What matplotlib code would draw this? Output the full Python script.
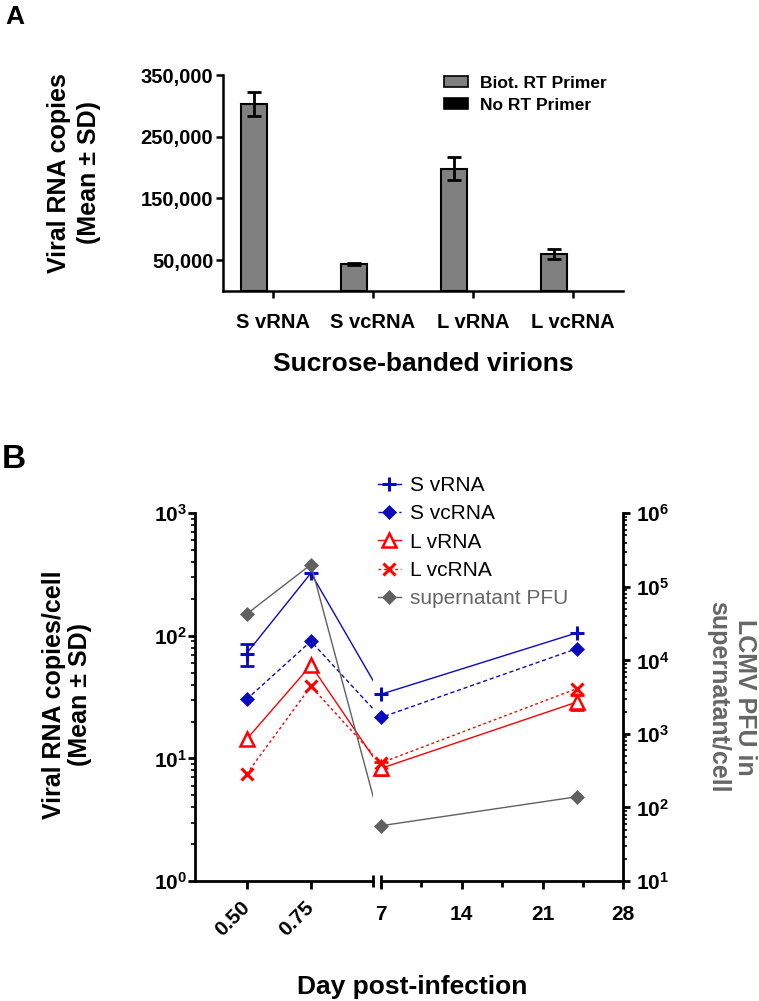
import numpy as np
import matplotlib
matplotlib.use('Agg')
import matplotlib.pyplot as plt
from matplotlib.lines import Line2D
from matplotlib.patches import Patch
from matplotlib.path import Path
from matplotlib.ticker import FixedLocator, FixedFormatter, LogLocator, NullFormatter

plt.rcParams['font.family'] = ['Liberation Sans', 'DejaVu Sans']
plt.rcParams['mathtext.fontset'] = 'custom'
plt.rcParams['mathtext.rm'] = 'Liberation Sans'
plt.rcParams['mathtext.bf'] = 'Liberation Sans:bold'
plt.rcParams['mathtext.it'] = 'Liberation Sans:italic'

nan = np.nan

# ---------------- Panel A data ----------------
categories = ['S vRNA', 'S vcRNA', 'L vRNA', 'L vcRNA']
biot_mean = [303000, 43500, 198000, 60000]
biot_sd = [19000, 1500, 18500, 8000]
no_rt_mean = [0, 0, 0, 0]
a_yticks = [50000, 150000, 250000, 350000]
a_yticklabels = ['50,000', '150,000', '250,000', '350,000']

# ---------------- Panel B data ----------------
days = [0.5, 0.75, 7, 24]
s_vrna = [71.8, 325, 33.4, 106]
s_vrna_sd = [14.6, nan, nan, nan]
s_vcrna = [30.3, 90.4, 21.6, 78.8]
l_vrna = [14.3, 57.6, 8.3, 28.9]
l_vrna_sd = [nan, nan, 1.0, 4.0]
l_vcrna = [7.45, 38.8, 9.2, 37.2]
pfu = [42500, 201000, 56.4, 140]
b_xticks = [0.5, 0.75, 7, 14, 21, 28]
b_xticklabels = ['0.50', '0.75', '7', '14', '21', '28']
b_xminor = [10.5, 17.5, 24.5]
left_yticks = [1, 10, 100, 1000]
left_yticklabels = [r'$\mathbf{10^{0}}$', r'$\mathbf{10^{1}}$', r'$\mathbf{10^{2}}$', r'$\mathbf{10^{3}}$']
right_yticks = [1e1, 1e2, 1e3, 1e4, 1e5, 1e6]
right_yticklabels = [r'$\mathbf{10^{%d}}$' % k for k in range(1, 7)]

# broken-axis layout (days -> position)
X_BREAK = [0.3, 0.99, 7.0, 28.0]
U_BREAK = [0.0, 177.7, 186.0, 428.3]

BLUE = '#0A0ABE'
RED = '#FF0000'
GRAY = '#606060'
LABEL_GRAY = '#666666'

W, H = 759, 1001
fig = plt.figure(figsize=(W / 100, H / 100), dpi=100)

# ================= Panel A =================
axA = fig.add_axes([223 / W, 1 - 291 / H, (622.7 - 223) / W, (291 - 75) / H])
x = np.arange(len(categories))
bw = 0.26
off = 0.19
b1 = axA.bar(x - off, biot_mean, width=bw, color='#808080', edgecolor='black',
             linewidth=1.5, zorder=2)
axA.errorbar(x - off, biot_mean, yerr=biot_sd, fmt='none', ecolor='black',
             elinewidth=2, capsize=5, capthick=2, zorder=3)
b2 = axA.bar(x + off, no_rt_mean, width=bw, color='black', edgecolor='black',
             linewidth=0, zorder=2)
axA.set_xlim(-0.5, len(categories) - 0.5)
axA.set_ylim(0, 350000)
axA.set_xticks(x)
axA.set_xticklabels(categories, fontsize=14.5, fontweight='bold')
axA.set_yticks(a_yticks)
axA.set_yticklabels(a_yticklabels, fontsize=14.5, fontweight='bold')
for s in ['top', 'right']:
    axA.spines[s].set_visible(False)
for s in ['left', 'bottom']:
    axA.spines[s].set_linewidth(1.8)
axA.tick_params(axis='x', length=5, width=1.8, pad=11)
axA.tick_params(axis='y', length=5, width=1.8, pad=2)

legA = fig.legend([Patch(facecolor='#808080', edgecolor='black', linewidth=1.2),
                   Patch(facecolor='black', edgecolor='black', linewidth=1.2)],
                  ['Biot. RT Primer', 'No RT Primer'],
                  loc='upper left', bbox_to_anchor=(444 / W, 1 - 76 / H),
                  frameon=False, prop={'size': 12.5, 'weight': 'bold'},
                  handlelength=1.4, handleheight=0.6, handletextpad=0.7,
                  labelspacing=0.4, borderpad=0, borderaxespad=0)

fig.text(15 / W, 1 - 17 / H, 'A', fontsize=19, fontweight='bold', ha='center', va='center')
fig.text(74 / W, 1 - 173 / H, 'Viral RNA copies\n(Mean ± SD)', rotation=90,
         fontsize=18, fontweight='bold', ha='center', va='center', linespacing=1.3)
fig.text(423 / W, 1 - 364 / H, 'Sucrose-banded virions', fontsize=19,
         fontweight='bold', ha='center', va='center')

# ================= Panel B =================
axB = fig.add_axes([195 / W, 1 - 881 / H, (623.3 - 195) / W, (881 - 513.3) / H])


def fwd(d):
    return np.interp(d, X_BREAK, U_BREAK)


def inv(u):
    return np.interp(u, U_BREAK, X_BREAK)


axB.set_xscale('function', functions=(fwd, inv))
axB.set_yscale('log')
axB.set_xlim(X_BREAK[0], X_BREAK[-1])
axB.set_ylim(1, 1000)

axR = axB.twinx()
axR.set_yscale('log')
axR.set_ylim(10, 1e6)


def seg_rect(x0, x1):
    return Path([(x0, -0.05), (x1, -0.05), (x1, 1.05), (x0, 1.05), (x0, -0.05)],
                closed=True)


clip = Path.make_compound_path(seg_rect(X_BREAK[0], X_BREAK[1]),
                               seg_rect(X_BREAK[2], X_BREAK[3]))

series = [
    (axB, s_vrna, 'S vRNA', BLUE, '-', dict(marker='+', ms=10, mew=2.2, mfc=BLUE)),
    (axB, s_vcrna, 'S vcRNA', BLUE, (0, (3, 2)), dict(marker='D', ms=7.5, mew=0.5, mfc=BLUE)),
    (axB, l_vrna, 'L vRNA', RED, '-', dict(marker='^', ms=10, mew=1.8, mfc='white')),
    (axB, l_vcrna, 'L vcRNA', RED, (0, (2, 2)), dict(marker='x', ms=9, mew=2.2, mfc=RED)),
    (axR, pfu, 'supernatant PFU', GRAY, '-', dict(marker='D', ms=7.5, mew=0.5, mfc=GRAY)),
]

handles, labels = [], []
for ax, vals, lab, col, ls, mk in series:
    ln, = ax.plot(days, vals, color=col, ls=ls, lw=1.0, zorder=2)
    ln.set_clip_path(clip, ax.get_xaxis_transform())
    ax.plot(days, vals, ls='none', color=col, mec=col, zorder=4, clip_on=False, **mk)
    handles.append(Line2D([], [], color=col, ls=ls, lw=1.0, mec=col, **mk))
    labels.append(lab)

for vals, sd, col in [(s_vrna, s_vrna_sd, BLUE), (l_vrna, l_vrna_sd, RED)]:
    m = ~np.isnan(np.array(sd, dtype=float))
    axB.errorbar(np.array(days)[m], np.array(vals)[m], yerr=np.array(sd)[m],
                 fmt='none', ecolor=col, elinewidth=2, capsize=5, capthick=2, zorder=3)

# x axis (broken)
axB.xaxis.set_major_locator(FixedLocator(b_xticks))
axB.xaxis.set_major_formatter(FixedFormatter(b_xticklabels))
axB.xaxis.set_minor_locator(FixedLocator(b_xminor))
axB.xaxis.set_minor_formatter(NullFormatter())
axB.tick_params(axis='x', which='major', length=6, width=2, pad=11, labelsize=15)
axB.tick_params(axis='x', which='minor', length=4, width=2)
for t in axB.get_xticklabels():
    t.set_fontweight('bold')
for t in axB.get_xticklabels()[:2]:
    t.set_rotation(45)
    t.set_ha('right')
    t.set_va('center')
    t.set_rotation_mode('anchor')

axB.spines['bottom'].set_visible(False)
for s in ['top']:
    axB.spines[s].set_visible(False)
    axR.spines[s].set_visible(False)
axR.spines['bottom'].set_visible(False)
axB.spines['left'].set_linewidth(2)
axR.spines['right'].set_linewidth(2)
axR.spines['left'].set_visible(False)
xt = axB.get_xaxis_transform()
axB.plot(X_BREAK[:2], [0, 0], color='black', lw=2, transform=xt, clip_on=False, zorder=5)
axB.plot(X_BREAK[2:], [0, 0], color='black', lw=2, transform=xt, clip_on=False, zorder=5)
axB.plot(X_BREAK[1:3], [0, 0], ls='none', marker='|', ms=8, mew=2, color='black',
         transform=xt, clip_on=False, zorder=5)

# y axes
axB.yaxis.set_major_locator(FixedLocator(left_yticks))
axB.yaxis.set_major_formatter(FixedFormatter(left_yticklabels))
axB.yaxis.set_minor_locator(LogLocator(base=10, subs=np.arange(2, 10)))
axB.yaxis.set_minor_formatter(NullFormatter())
axB.tick_params(axis='y', which='major', length=5, width=2, pad=1, labelsize=15)
axB.tick_params(axis='y', which='minor', length=3, width=1.2)

axR.yaxis.set_major_locator(FixedLocator(right_yticks))
axR.yaxis.set_major_formatter(FixedFormatter(right_yticklabels))
axR.yaxis.set_minor_locator(LogLocator(base=10, subs=np.arange(2, 10)))
axR.yaxis.set_minor_formatter(NullFormatter())
axR.tick_params(axis='y', which='major', length=5, width=2, pad=4, labelsize=15)
axR.tick_params(axis='y', which='minor', length=3, width=1.2)

legB = fig.legend(handles, labels, loc='upper left', bbox_to_anchor=(378 / W, 1 - 476 / H),
                  frameon=False, fontsize=15, handlelength=1.1, handletextpad=0.45,
                  labelspacing=0.45, borderpad=0, borderaxespad=0)
legB.get_texts()[-1].set_color(LABEL_GRAY)

fig.text(14 / W, 1 - 460 / H, 'B', fontsize=24, fontweight='bold', ha='center', va='center')
fig.text(67 / W, 1 - 695 / H, 'Viral RNA copies/cell\n(Mean ± SD)', rotation=90,
         fontsize=18, fontweight='bold', ha='center', va='center', linespacing=1.15)
fig.text(732 / W, 1 - 697 / H, 'LCMV PFU in\nsupernatant/cell', rotation=270,
         fontsize=18, fontweight='bold', ha='center', va='center', linespacing=1.15,
         color=LABEL_GRAY)
fig.text(412 / W, 1 - 987 / H, 'Day post-infection', fontsize=19, fontweight='bold',
         ha='center', va='center')

fig.savefig('out.png', dpi=100)
